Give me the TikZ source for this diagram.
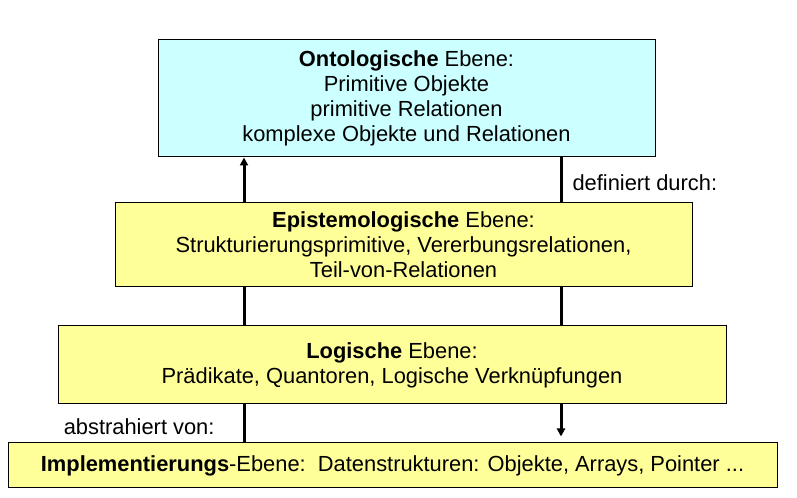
\documentclass[tikz,border=0pt]{standalone}
\usepackage{fontspec}
\setmainfont{Liberation Sans}
\usetikzlibrary{arrows.meta}

\definecolor{ontocyan}{RGB}{204,255,255}
\definecolor{ebenegelb}{RGB}{255,255,153}

\tikzset{every picture/.style={line width=0.75pt}}

\begin{document}
\begin{tikzpicture}[x=0.75pt,y=0.75pt,yscale=-1,xscale=1,
  ebene/.style={draw, align=center, inner sep=0pt, font=\fontsize{16.4}{18.75}\selectfont},
  beschr/.style={inner sep=0pt, font=\fontsize{16.4}{18.75}\selectfont},
  pfeil/.style={line width=2.25pt}]
\useasboundingbox (0,0) rectangle (797,498);

%Ebenen
\node [ebene, fill=ontocyan, minimum width=372.75pt, minimum height=87.75pt] (onto) at (406.5,98.5)
  {\textbf{Ontologische} Ebene:\\Primitive Objekte\\primitive Relationen\\komplexe Objekte und Relationen};
\node [ebene, fill=ebenegelb, minimum width=432.75pt, minimum height=63pt] (epi) at (403.5,245)
  {\textbf{Epistemologische} Ebene:\\Strukturierungsprimitive, Vererbungsrelationen,\\Teil-von-Relationen};
\node [ebene, fill=ebenegelb, minimum width=501pt, minimum height=58.5pt] (logi) at (392,365)
  {\textbf{Logische} Ebene:\\Prädikate, Quantoren, Logische Verknüpfungen};
\node [ebene, fill=ebenegelb, minimum width=576.75pt, minimum height=33.75pt] (impl) at (392.5,465.5)
  {\textbf{Implementierungs}-Ebene:\ \ Datenstrukturen: Objekte, Arrays, Pointer ...};

%Linien
\coordinate (lx) at (244,0);
\coordinate (rx) at (561,0);

%abstrahiert von
\draw [pfeil] (impl.north -| lx) -- (logi.south -| lx) ;
\draw [pfeil] (logi.north -| lx) -- (epi.south -| lx) ;
\draw [pfeil, -{Triangle[length=6pt,width=6pt]}] (epi.north -| lx) -- (onto.south -| lx) ;
%definiert durch
\draw [pfeil] (onto.south -| rx) -- (epi.north -| rx) ;
\draw [pfeil] (epi.south -| rx) -- (logi.north -| rx) ;
\draw [pfeil, -{Triangle[length=6pt,width=6pt]}, shorten >=4.5pt] (logi.south -| rx) -- (impl.north -| rx) ;

% Text Node
\node [beschr, anchor=west] (defl) at (572,183) {definiert durch:};
% Text Node
\node [beschr, anchor=east] (absl) at (215,427) {abstrahiert von:};

\end{tikzpicture}
\end{document}
